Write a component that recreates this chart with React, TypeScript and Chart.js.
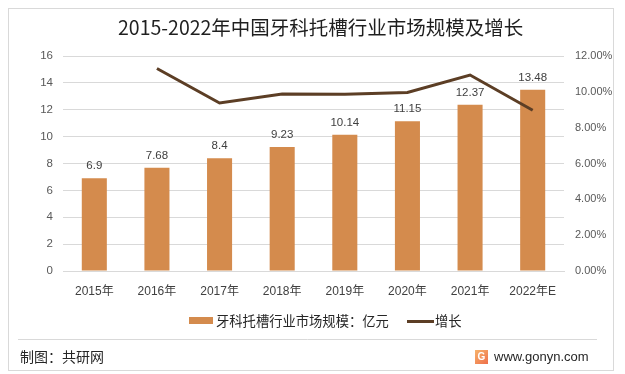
import React, { useEffect, useRef } from "react";
import { Chart, registerables } from "chart.js";

Chart.register(...registerables);

const categories = ["2015年", "2016年", "2017年", "2018年", "2019年", "2020年", "2021年", "2022年E"];
const marketSize = [6.9, 7.68, 8.4, 9.23, 10.14, 11.15, 12.37, 13.48];
const growth = [null, 11.3, 9.38, 9.88, 9.86, 9.96, 10.94, 8.97];
const leftTicks = { min: 0, max: 16, step: 2 };
const rightTicks = { min: 0, max: 12, step: 2 };

const TITLE = "2015-2022年中国牙科托槽行业市场规模及增长";
const BAR_LABEL = "牙科托槽行业市场规模：亿元";
const LINE_LABEL = "增长";
const SOURCE = "制图：共研网";
const SITE = "www.gonyn.com";

const BAR_COLOR = "#D48B4D";
const LINE_COLOR = "#5C3E25";
const GRID = "#D9D9D9";
const TICK = "#595959";
const LATIN_CJK = '"Liberation Sans", "Noto Sans CJK SC", sans-serif';
const CJK = '"Noto Sans CJK SC", sans-serif';

const decorPlugin = {
  id: "decor",
  beforeDraw(chart: any) {
    const ctx = chart.ctx;
    ctx.save();
    ctx.fillStyle = "#ffffff";
    ctx.fillRect(0, 0, chart.width, chart.height);
    ctx.strokeStyle = "#D9D9D9";
    ctx.lineWidth = 1;
    ctx.strokeRect(8.5, 8.5, 605, 362);
    ctx.restore();
  },
  afterDraw(chart: any) {
    const ctx = chart.ctx;
    ctx.save();
    // title
    ctx.fillStyle = "#1F1F1F";
    ctx.font = `19.5px ${CJK}`;
    ctx.textAlign = "left";
    ctx.textBaseline = "middle";
    ctx.fillText(TITLE, 118, 28);

    // legend
    const ds0 = chart.data.datasets[0];
    const ds1 = chart.data.datasets[1];
    ctx.fillStyle = ds0.backgroundColor;
    ctx.fillRect(189, 317, 24, 7);
    ctx.fillStyle = "#262626";
    ctx.font = `13.3px ${CJK}`;
    ctx.textBaseline = "middle";
    ctx.fillText(ds0.label, 216, 321);
    ctx.strokeStyle = ds1.borderColor;
    ctx.lineWidth = 3;
    ctx.beginPath();
    ctx.moveTo(407, 321.5);
    ctx.lineTo(434, 321.5);
    ctx.stroke();
    ctx.fillText(ds1.label, 435, 321);

    // separator
    ctx.strokeStyle = "#D9D9D9";
    ctx.lineWidth = 1;
    ctx.beginPath();
    ctx.moveTo(18, 339.5);
    ctx.lineTo(597, 339.5);
    ctx.stroke();

    // footer
    ctx.fillStyle = "#262626";
    ctx.font = `14px ${CJK}`;
    ctx.fillText(SOURCE, 20, 357);
    ctx.font = `13px "Liberation Sans", sans-serif`;
    ctx.fillText(SITE, 494, 357);

    // logo
    const g = ctx.createLinearGradient(475, 350, 488, 364);
    g.addColorStop(0, "#F7B36B");
    g.addColorStop(1, "#EE6F4A");
    ctx.fillStyle = g;
    ctx.fillRect(475, 350, 13, 14);
    ctx.fillStyle = "#ffffff";
    ctx.font = `bold 10px "Liberation Sans", sans-serif`;
    ctx.textAlign = "center";
    ctx.fillText("G", 481.5, 357.5);
    ctx.restore();
  },
  afterDatasetsDraw(chart: any) {
    const ctx = chart.ctx;
    const meta = chart.getDatasetMeta(0);
    ctx.save();
    ctx.fillStyle = "#404040";
    ctx.font = `11.5px ${LATIN_CJK}`;
    ctx.textAlign = "center";
    ctx.textBaseline = "middle";
    meta.data.forEach((bar: any, i: number) => {
      ctx.fillText(String(marketSize[i]), bar.x, bar.y - 12);
    });
    ctx.restore();
  },
};

export default function App() {
  const ref = useRef<HTMLCanvasElement>(null);
  useEffect(() => {
    if (!ref.current) return;
    const chart = new Chart(ref.current, {
      type: "bar",
      data: {
        labels: categories,
        datasets: [
          {
            type: "bar",
            label: BAR_LABEL,
            data: marketSize,
            backgroundColor: BAR_COLOR,
            yAxisID: "y",
            categoryPercentage: 1,
            barPercentage: 0.4,
            order: 2,
          },
          {
            type: "line",
            label: LINE_LABEL,
            data: growth as any,
            borderColor: LINE_COLOR,
            backgroundColor: LINE_COLOR,
            borderWidth: 3,
            pointRadius: 0,
            tension: 0,
            yAxisID: "y1",
            order: 1,
          },
        ],
      } as any,
      options: {
        responsive: false,
        animation: false,
        layout: { padding: { left: 0, right: 0, top: 56, bottom: 0 } },
        plugins: { legend: { display: false }, title: { display: false }, tooltip: { enabled: false } },
        scales: {
          x: {
            grid: { display: false, drawTicks: false },
            border: { display: true, color: GRID },
            ticks: { color: "#404040", font: { size: 12, family: LATIN_CJK }, padding: 13, maxRotation: 0 },
            afterFit(s: any) { s.height = 103; },
          },
          y: {
            position: "left",
            min: leftTicks.min,
            max: leftTicks.max,
            ticks: { stepSize: leftTicks.step, color: TICK, font: { size: 11.5, family: LATIN_CJK }, padding: 10 },
            grid: { color: GRID, drawTicks: false },
            border: { display: false },
            afterFit(s: any) { s.width = 63; },
          },
          y1: {
            position: "right",
            min: rightTicks.min,
            max: rightTicks.max,
            ticks: {
              stepSize: rightTicks.step,
              color: TICK,
              font: { size: 11, family: LATIN_CJK },
              padding: 11,
              callback: (v: any) => `${Number(v).toFixed(2)}%`,
            },
            grid: { display: false, drawTicks: false },
            border: { display: false },
            afterFit(s: any) { s.width = 61; },
          },
        },
      } as any,
      plugins: [decorPlugin],
    });
    return () => chart.destroy();
  }, []);
  return (
    <div style={{ position: "fixed", left: 0, top: 0, width: 625, height: 374 }}>
      <canvas ref={ref} width={625} height={374} style={{ width: 625, height: 374, display: "block" }} />
    </div>
  );
}
